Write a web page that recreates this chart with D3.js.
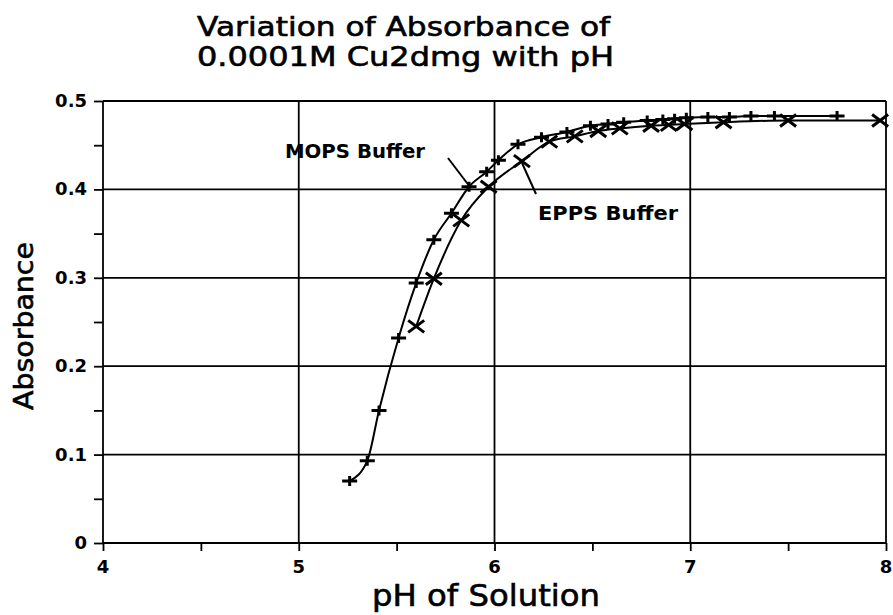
<!DOCTYPE html>
<html><head><meta charset="utf-8">
<script src="https://cdn.jsdelivr.net/npm/d3@7"></script>
<style>body{margin:0;background:#fff}svg{display:block}</style>
</head><body>
<svg id="c" width="893" height="615"></svg>
<script>
const titleLines = ["Variation of Absorbance of", "0.0001M Cu2dmg with pH"];
const xLabel = "pH of Solution";
const yLabel = "Absorbance";
const xTicks = [4, 5, 6, 7, 8];
const yTicks = [0, 0.1, 0.2, 0.3, 0.4, 0.5];
const yTickLabels = ["0", "0.1", "0.2", "0.3", "0.4", "0.5"];

const mopsPH  = [5.26,5.35,5.41,5.51,5.60,5.69,5.78,5.87,5.96,6.02,6.12,6.24,6.37,6.49,6.58,6.66,6.78,6.86,6.92,6.98,7.09,7.20,7.31,7.43,7.75];
const mopsAbs = [0.070,0.093,0.150,0.232,0.294,0.343,0.373,0.403,0.420,0.433,0.451,0.459,0.465,0.472,0.474,0.476,0.478,0.479,0.480,0.481,0.482,0.482,0.483,0.483,0.483];
const eppsPH  = [5.60,5.69,5.83,5.97,6.14,6.28,6.41,6.53,6.64,6.80,6.89,6.97,7.17,7.50,7.97];
const eppsAbs = [0.245,0.299,0.365,0.403,0.432,0.454,0.460,0.466,0.469,0.472,0.473,0.474,0.476,0.478,0.478];
const seriesNames = ["MOPS Buffer", "EPPS Buffer"];

const svg = d3.select("#c");
const x = d3.scaleLinear().domain([4, 8]).range([103, 886]);
const y = d3.scaleLinear().domain([0, 0.5]).range([543, 101]);
const font = "'DejaVu Sans', sans-serif";

// grid
const g = svg.append("g");
g.selectAll(".vg").data(xTicks).join("line")
  .attr("x1", d => x(d)).attr("x2", d => x(d)).attr("y1", y(0)).attr("y2", y(0.5))
  .attr("stroke", "#000").attr("stroke-width", 1.8);
g.selectAll(".hg").data(yTicks).join("line")
  .attr("x1", x(4)).attr("x2", x(8)).attr("y1", d => y(d)).attr("y2", d => y(d))
  .attr("stroke", "#000").attr("stroke-width", 1.8);

// axes
const xAxis = d3.axisBottom(x).tickValues(d3.range(4, 8.01, 0.5)).tickSize(8).tickFormat("");
const yAxis = d3.axisLeft(y).tickValues(d3.range(0, 0.501, 0.05)).tickSize(9).tickFormat("");
svg.append("g").attr("transform", `translate(0,${y(0)})`).call(xAxis)
  .call(s => { s.select(".domain").remove(); s.selectAll("line").attr("stroke-width", 1.8); });
svg.append("g").attr("transform", `translate(${x(4)},0)`).call(yAxis)
  .call(s => { s.select(".domain").remove(); s.selectAll("line").attr("stroke-width", 1.8); });

// tick labels
svg.selectAll(".xl").data(xTicks).join("text")
  .attr("x", d => x(d)).attr("y", 573).attr("text-anchor", "middle")
  .attr("font-family", font).attr("font-weight", "bold").attr("font-size", 18).text(d => d);
svg.selectAll(".yl").data(yTicks).join("text")
  .attr("x", 87).attr("y", d => y(d) + 6).attr("text-anchor", "end")
  .attr("font-family", font).attr("font-weight", "bold").attr("font-size", 18)
  .text((d, i) => yTickLabels[i]);

// titles
svg.selectAll(".tt").data(titleLines).join("text")
  .attr("x", 197).attr("y", (d, i) => 36 + i * 30)
  .attr("font-family", font).attr("font-size", 26)
  .attr("stroke", "#000").attr("stroke-width", 0.6)
  .attr("textLength", (d, i) => i === 0 ? 413 : 417).attr("lengthAdjust", "spacingAndGlyphs")
  .text(d => d);
svg.append("text").attr("x", 372).attr("y", 606)
  .attr("font-family", font).attr("font-size", 30)
  .attr("stroke", "#000").attr("stroke-width", 0.6)
  .attr("textLength", 228).attr("lengthAdjust", "spacingAndGlyphs").text(xLabel);
svg.append("text").attr("transform", "translate(33,410) rotate(-90)")
  .attr("font-family", font).attr("font-size", 27)
  .attr("stroke", "#000").attr("stroke-width", 0.6)
  .attr("textLength", 168).attr("lengthAdjust", "spacingAndGlyphs").text(yLabel);

// lines
const line = d3.line().x(d => x(d[0])).y(d => y(d[1])).curve(d3.curveMonotoneX);
const mops = mopsPH.map((p, i) => [p, mopsAbs[i]]);
const epps = eppsPH.map((p, i) => [p, eppsAbs[i]]);
svg.append("path").datum(mops).attr("d", line).attr("fill", "none").attr("stroke", "#000").attr("stroke-width", 2);
svg.append("path").datum(epps).attr("d", line).attr("fill", "none").attr("stroke", "#000").attr("stroke-width", 2);

// markers
svg.selectAll(".pm").data(mops).join("path")
  .attr("transform", d => `translate(${x(d[0])},${y(d[1])})`)
  .attr("d", "M-7.5,0H7.5M0,-5V5").attr("stroke", "#000").attr("stroke-width", 3).attr("fill", "none");
svg.selectAll(".xm").data(epps).join("path")
  .attr("transform", d => `translate(${x(d[0])},${y(d[1])})`)
  .attr("d", "M-8,-6L8,6M-8,6L8,-6").attr("stroke", "#000").attr("stroke-width", 3).attr("fill", "none");

// annotations
svg.append("text").attr("x", 285).attr("y", 158)
  .attr("font-family", font).attr("font-weight", "bold").attr("font-size", 20)
  .attr("textLength", 140).attr("lengthAdjust", "spacingAndGlyphs").text(seriesNames[0]);
svg.append("text").attr("x", 538).attr("y", 220)
  .attr("font-family", font).attr("font-weight", "bold").attr("font-size", 20)
  .attr("textLength", 140).attr("lengthAdjust", "spacingAndGlyphs").text(seriesNames[1]);
svg.append("line").attr("x1", 448).attr("y1", 158).attr("x2", 470).attr("y2", 187)
  .attr("stroke", "#000").attr("stroke-width", 2);
svg.append("line").attr("x1", 522).attr("y1", 163).attr("x2", 536).attr("y2", 194)
  .attr("stroke", "#000").attr("stroke-width", 2);
</script>
</body></html>
